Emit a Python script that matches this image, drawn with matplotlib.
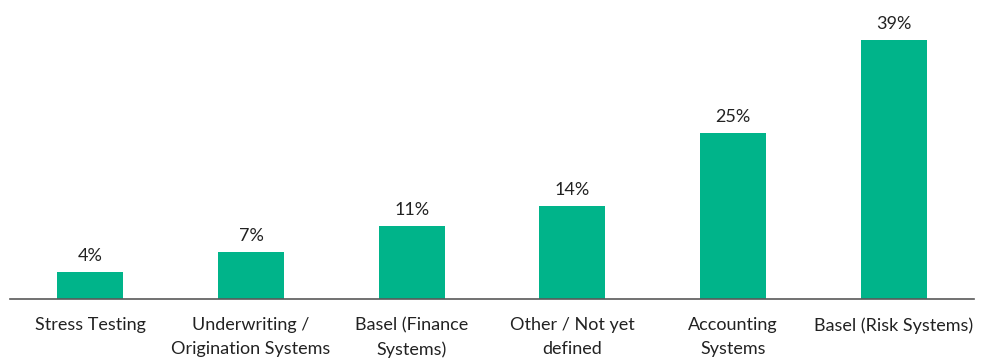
import matplotlib
matplotlib.use("Agg")
import matplotlib.pyplot as plt
import numpy as np

plt.rcParams['font.family'] = ['Lato', 'DejaVu Sans']

# survey results, share of respondents
categories = ["Stress Testing", "Underwriting /\nOrigination Systems",
              "Basel (Finance\nSystems)", "Other / Not yet\ndefined",
              "Accounting\nSystems", "Basel (Risk Systems)"]
values = [4, 7, 11, 14, 25, 39]

bar_color = "#00B48A"
text_color = "#222222"

fig = plt.figure(figsize=(9.99, 3.63), dpi=100)
ax = fig.add_axes([10 / 999, 64 / 363, 964 / 999, 299 / 363])

x = np.arange(len(categories))
bars = ax.bar(x, values, width=0.41, color=bar_color, zorder=2)

for b, v in zip(bars, values):
    ax.annotate(f"{v}%", (b.get_x() + b.get_width() / 2, v),
                xytext=(0, 6), textcoords="offset points",
                ha="center", va="bottom", fontsize=13, color=text_color)

ax.set_xlim(-0.5, len(categories) - 0.5)
ax.set_ylim(0, 45)
ax.set_xticks(x)
ax.set_xticklabels(categories, fontsize=13, color=text_color, linespacing=1.6)
ax.tick_params(axis="x", length=0, pad=13)
ax.set_yticks([])

for side in ["top", "right", "left"]:
    ax.spines[side].set_visible(False)
ax.spines["bottom"].set_color("#595959")
ax.spines["bottom"].set_linewidth(1.2)

fig.savefig("out.png", dpi=100)
